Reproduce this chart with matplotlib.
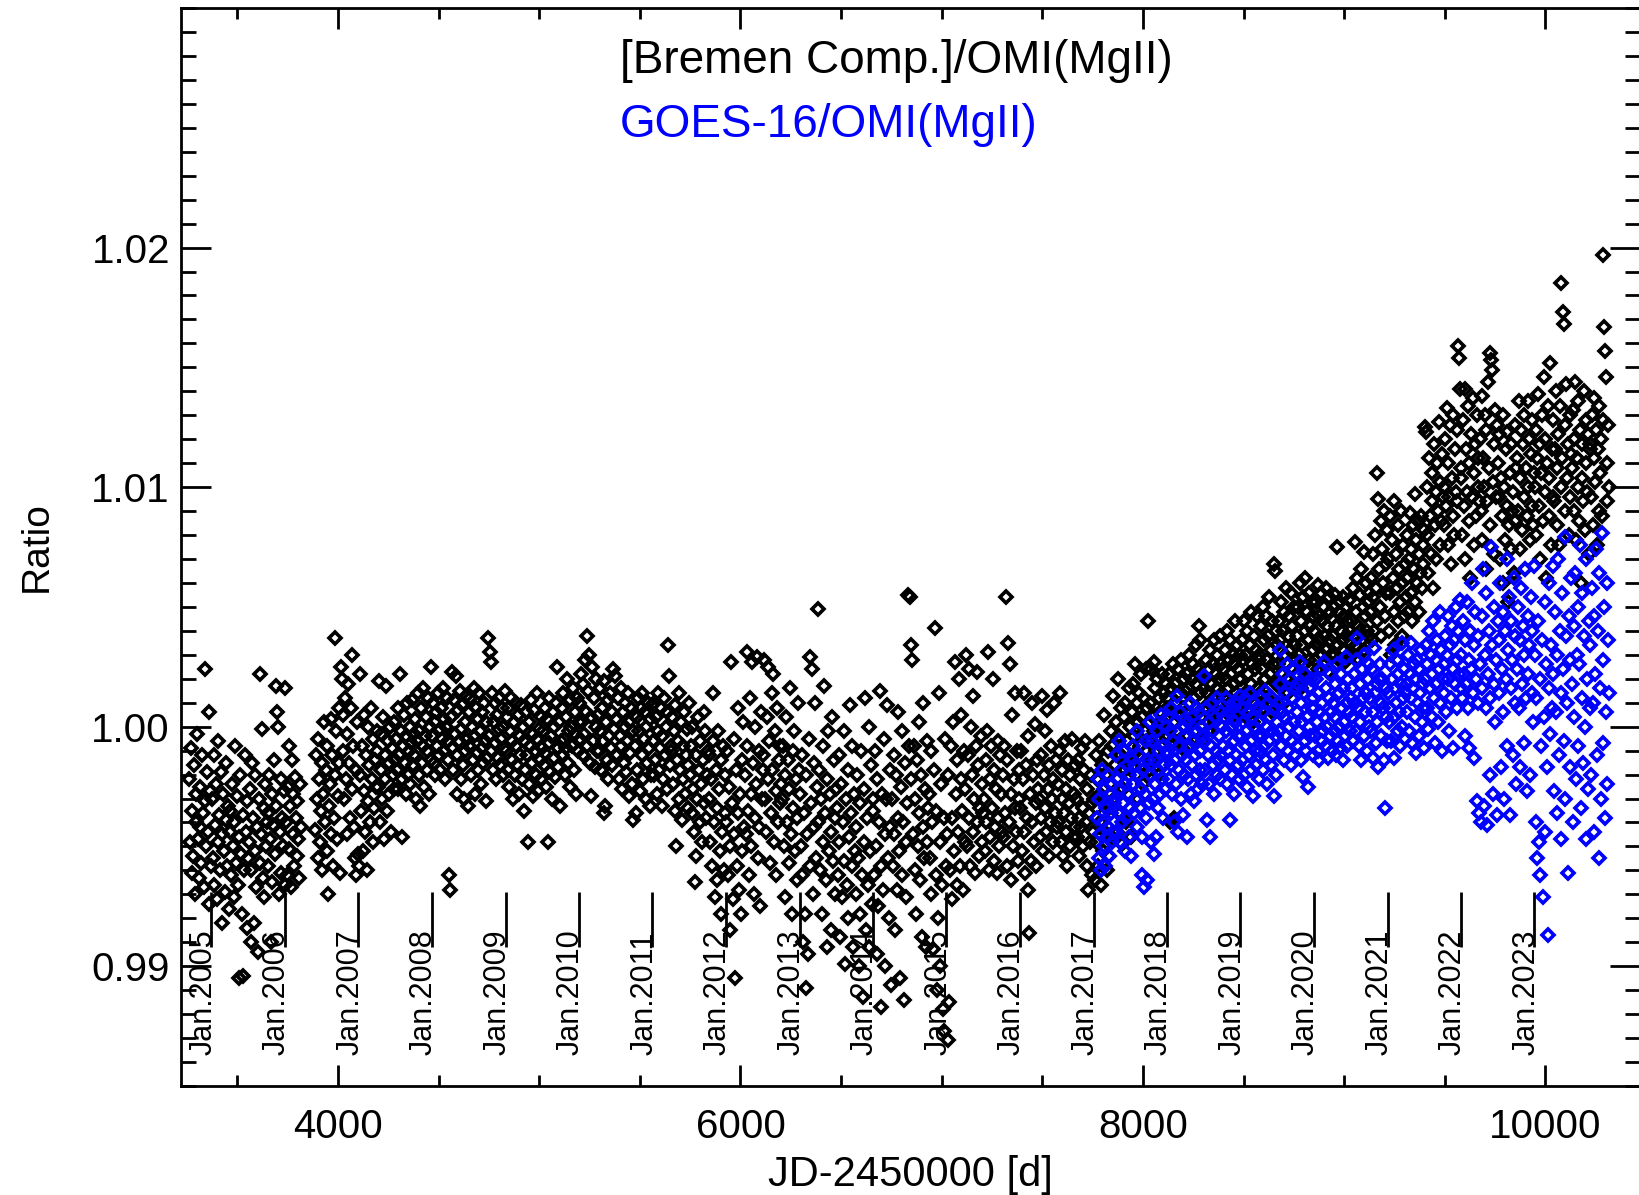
import numpy as np
import matplotlib
matplotlib.use("Agg")
import matplotlib.pyplot as plt
from matplotlib.ticker import MultipleLocator, FixedLocator, FormatStrFormatter

N = float('nan')

# ---------------- data ----------------
# Jan 1st of each year in JD-2450000
jan1_days = [3371.5, 3736.5, 4101.5, 4466.5, 4832.5, 5197.5, 5562.5, 5927.5, 6293.5,
             6658.5, 7023.5, 7388.5, 7754.5, 8119.5, 8484.5, 8849.5, 9215.5, 9580.5, 9945.5]
jan1_labels = ['Jan.2005', 'Jan.2006', 'Jan.2007', 'Jan.2008', 'Jan.2009', 'Jan.2010',
               'Jan.2011', 'Jan.2012', 'Jan.2013', 'Jan.2014', 'Jan.2015', 'Jan.2016',
               'Jan.2017', 'Jan.2018', 'Jan.2019', 'Jan.2020', 'Jan.2021', 'Jan.2022',
               'Jan.2023']

black_first_day = 3258.0
black_last_day = 10318.0
blue_first_day = 7770.0
blue_last_day = 10318.0

# ratio values, in units of 1e-4 relative to 1.0 (4-day cadence)
black_2004 = [-22,-48,-9,-61,-35,-54,-16,-70,-40,-28,-3,-47,-63,-25,-42,-57,-12,-36,-67,-31,24,-50,-19,-44,-74,6,-27,-58]
black_2005 = [-30,-55,-12,-66,-41,-24,-72,-48,-6,-37,-60,-19,-82,-45,-28,-52,-69,-15,-39,-58,-33,-76,-44,
              -35,-62,-24,-50,-71,-40,-8,-57,-29,-66,-46,-105,-20,-53,-78,-37,-104,-60,-12,-44,-84,-31,-55,
              -48,-26,-90,-60,-15,-38,-82,-52,-20,-67,-42,-94,-30,-57,22,-45,-1,-63,-34,-71,-24,-50,-40,
              -36,-58,-20,-47,-90,-28,-65,-41,-14,-53,-33,17,6,0,-70,-44,-22,-61,-38,-50,-27,-66]
black_2006 = [16,-40,-62,-25,-8,-51,-33,-67,-14,-45,-28,-58,-21,-38,-54,-31,-47,-63,-24,-42,
              N,N,N,N,N,N,N,N,N,N,N,N,N,N,N,N,N,
              -43,-12,-30,-55,-5,-22,-48,-35,-15,-60,-28,2,-40,-18,-52,-8,-70,-33,-24,-45,3,-12,-58,-38,37,-20,-2,-47,-29,8,-15,-61,25,
              20,-10,5,-30,12,-22,-45,-3,18,-15,-38,8,-26,30,-8,-42,-55,-18,-62,2,-53]
black_2007 = [-58,-20,22,-35,-8,-52,5,-27,-44,-12,-60,0,-31,-16,-40,8,-22,-48,-5,-34,-14,-25,-2,
              -10,-25,19,-40,-3,-18,-30,4,-47,-12,-22,17,-35,-6,-15,-28,0,-44,-9,-20,2,-26,-14,
              -5,-18,8,-26,-12,22,-2,-22,-46,-8,5,-15,-28,-4,10,-20,-10,0,-24,-7,11,-16,-3,
              -12,3,-30,-6,14,-20,-2,-33,8,-15,-8,16,-25,-4,4,-18,-10,12,-28,0,-14,25]
black_2008 = [-4,10,-15,2,-20,6,-8,14,-12,-1,-18,8,-5,16,-10,3,-22,0,12,-14,-6,-62,-68,
              4,23,-9,-18,11,-3,21,-28,-12,7,-6,15,-22,-1,9,-16,-30,2,-10,13,-5,-33,6,
              -8,12,-20,0,-14,16,-4,-28,8,-11,3,-18,14,-2,-24,6,-9,-15,10,-6,-31,2,-13,
              37,-4,31,27,-10,14,-18,2,-7,10,-22,5,-13,-1,12,-16,-5,8,-20,0,-9,15]
black_2009 = [-10,4,-18,8,-25,-2,12,-14,-6,-30,2,-20,10,-8,-16,5,-28,-4,-12,9,-22,0,-35,
              -6,-18,6,-12,-48,2,-24,-8,11,-15,-3,-29,7,-10,-20,14,-5,-27,-1,-14,4,-22,-9,
              -2,-16,8,-11,-25,3,-48,-7,12,-19,-4,-30,6,-13,0,-21,10,25,-9,-17,2,-33,-6,
              8,-12,14,-5,-20,4,-9,20,-15,-2,11,-25,0,-8,16,-18,6,-3,-28,12,-10,2]
black_2010 = [10,-5,22,2,-12,18,-3,28,6,38,-8,15,30,-15,-29,4,25,-6,12,-17,0,20,-10,
              5,-10,16,-2,-18,8,-6,19,-36,-33,2,-14,11,-22,-4,14,-9,6,-16,24,-1,21,-12,
              3,-12,12,-22,-4,16,-8,-26,6,-15,0,10,-19,-6,14,-29,2,-11,8,-24,-2,-39,5,
              -8,-36,4,-18,12,-2,-27,8,-12,14,-22,-5,6,-30,0,-15,10,-9,-33,3,-20,9]
black_2011 = [-6,-20,10,-14,4,-28,-2,14,-18,-9,8,-33,-4,-22,12,-12,0,-26,6,34,21,-16,-8,
              -10,4,-24,-2,-35,9,-50,-14,-6,14,-30,-18,2,-39,-8,-22,6,-28,-12,-1,-34,-16,10,
              -20,-8,-36,0,-26,-44,-65,-12,-54,-30,4,-18,-40,-6,-24,-48,-14,6,-32,-2,-38,-20,-10,
              -30,-12,-48,-22,-58,-6,14,-40,-71,-18,-34,-64,-2,-26,-52,-78,-14,-44,-8,-60,-36,-20]
black_2012 = [-40,-10,-62,-25,-85,-50,27,-32,-72,-5,-45,-105,-18,-58,-36,8,-68,-28,-78,-14,-52,2,-42,
              -20,-45,31,-8,-35,-62,12,-28,-50,27,-15,-70,0,-38,-24,29,-55,-10,-42,-75,6,-30,-18,
              -12,28,-30,-44,4,-22,25,-6,-57,-36,14,-18,22,-48,-2,-27,-62,8,-40,-14,-32,-8,-24,
              -30,-8,-50,-20,-71,4,-40,-14,-57,-26,16,-45,-78,-10,-34,-2,-52,-22,-64,-38,10,-18]
black_2013 = [-28,-50,-12,-62,-90,-36,-78,-20,-109,-45,-95,-5,29,-58,-32,24,-70,-15,-42,10,-55,-25,49,
              -40,-18,-60,-30,-78,-8,-48,17,-36,-64,-22,-92,-2,-52,-28,-85,-44,4,-56,-14,-38,-70,-26,
              -34,-62,-12,-48,-88,-24,-71,-40,-2,-56,-99,-30,-66,-18,-80,-46,9,-36,-58,-8,-92,-28,-52,
              -42,-70,-20,-55,-100,-32,-78,-10,-62,-113,-26,-48,12,-85,-38,-66,0,-92,-52,-16,-74,-30]
black_2014 = [-35,-62,-10,-50,-95,-22,-75,-40,15,-58,-117,-28,-68,-5,-45,-100,-30,9,-55,-80,-18,-42,-108,
              -30,-58,-12,-45,-85,-20,-68,-38,6,-52,-105,-25,-62,-2,-40,-114,-15,-48,-71,-32,55,-8,54,
              34,-22,28,-45,-8,-60,-30,-78,-14,-50,2,-36,-64,-20,-88,-42,10,-55,-26,-92,-6,-48,-34,
              -28,-55,-10,-70,-40,-93,-18,41,-62,-35,-110,-80,14,-48,-100,-24,-66,-118,-38,-127,-5,-58]
black_2015 = [-45,-131,-20,-115,-60,-8,-38,-72,2,-52,27,-28,-66,-14,-44,20,-58,-22,5,-35,-68,-10,-48,
              -26,30,-50,-12,24,-38,-58,0,-20,-44,13,-30,-61,-8,-40,23,-16,-54,-34,-4,-48,-24,-36,
              -30,-52,-14,-40,-2,31,-60,-22,-46,-8,-34,20,-56,-18,-42,-26,-61,-6,-38,-50,-12,-28,-44,
              -20,-46,-8,-36,54,-58,-14,35,-40,26,-28,-64,5,-50,-22,-34,14,-44,-10,-56,-30,-18]
black_2016 = [-34,-10,-52,-22,14,-44,-61,-16,-38,-4,-68,-86,-28,-56,10,-40,-20,-48,1,-32,-58,-14,-26,
              -30,-46,-12,-38,13,-52,-20,-34,-2,-44,7,-26,-54,-16,-40,-8,-30,-48,-22,10,-36,-14,-42,
              -24,-40,-10,14,-48,-30,-18,-54,-36,-6,-44,-26,-58,-14,-32,-50,-20,-38,-5,-46,-28,-42,-16,
              -30,-46,-14,-38,-54,-22,-42,-9,-34,-50,-18,-6,-40,-58,-26,-68,-36,-48,-20,-62,-32,-44]
black_2017 = [-30,-64,-12,-48,-22,-58,-6,-40,-28,-66,-16,-52,5,-36,-44,-20,-60,-10,-32,-54,-24,-2,-46,
              -8,13,-30,-16,2,-44,-22,20,-4,-36,8,-12,-49,-26,4,-18,10,-40,-6,-28,16,-14,0,
              -46,6,-12,18,-4,26,-20,10,-30,2,14,-8,22,-16,4,-24,12,-2,24,-10,8,44,-18,
              10,-6,24,-14,4,27,-2,16,-10,20,0,-20,12,6,-8,22,2,-16,14,-4,18,8]
black_2018 = [12,-4,22,-40,6,16,-8,26,-38,2,18,10,-2,24,-6,14,4,28,-9,8,20,0,15,
              6,22,-4,16,30,10,-8,20,2,26,12,-2,18,34,8,24,42,36,14,4,22,-6,16,
              20,8,28,14,-2,24,10,32,18,4,26,12,36,2,22,16,30,6,20,38,10,26,14,
              24,12,32,6,20,40,16,28,10,36,22,4,30,18,26,44,14,34,8,24,20,30]
black_2019 = [20,36,8,28,44,14,30,4,40,22,12,34,48,18,26,2,38,24,10,32,46,16,28,
              30,14,42,24,50,8,36,20,46,28,12,38,54,22,32,6,44,26,68,65,40,18,34,
              26,44,16,36,52,22,40,10,48,30,58,20,38,14,46,32,56,24,42,18,50,34,28,
              38,22,50,30,60,16,44,34,54,26,40,62,20,48,36,28,56,42,24,52,32,46]
black_2020 = [40,28,52,34,59,24,46,36,56,30,44,26,50,38,58,32,42,23,54,36,48,30,45,
              38,50,30,55,42,75,34,48,28,52,40,36,54,32,46,27,50,38,44,30,53,40,35,
              44,30,58,38,77,48,34,62,42,28,55,40,66,36,50,73,32,46,60,40,52,38,56,
              48,62,36,72,54,40,80,58,44,106,95,66,50,86,38,74,60,90,46,68,56,82]
black_2021 = [70,40,88,56,30,78,62,94,48,34,72,58,84,44,66,52,90,38,60,76,46,68,54,
              62,80,48,70,89,56,74,44,84,66,97,52,78,60,86,48,72,64,88,58,76,68,82,
              125,123,80,100,64,112,88,72,106,94,58,118,84,98,70,110,90,127,76,102,86,114,96,
              100,84,120,92,133,76,110,96,126,68,104,88,130,80,116,98,124,94,159,154,141,108]
black_2022 = [104,80,128,92,141,70,116,98,134,86,110,62,122,96,137,76,106,118,88,130,100,112,94,
              120,90,138,78,112,100,130,66,124,94,144,108,84,156,153,149,102,118,72,132,96,126,110,
              96,122,70,104,88,130,60,100,78,116,92,123,52,84,106,74,118,90,98,64,126,86,108,
              112,90,136,74,104,124,82,118,96,130,66,108,88,136,100,120,78,114,92,128,84,106]
black_2023 = [100,124,80,112,139,92,118,70,106,130,86,146,98,120,62,110,134,88,104,152,76,116,96,
              128,94,116,140,84,108,122,76,134,100,185,112,173,168,90,126,143,104,118,80,130,96,114,
              108,132,90,120,144,78,112,100,136,86,124,60,104,118,94,140,82,128,110,98,122,72,116,
              118,96,130,84,112,137,102,124,76,116,90,134,106,120,88,128,197,167,157,146,110,94,126,100]

blue_2017 = [-38,-22,-55,-30,-45,-60,-18,-40,-50,-26,-58,-34,-46,-20,-42,-54,-28,-36,-48,-24,-44,-32,
             -30,-12,-44,-22,-36,-6,-48,-26,-18,-40,-32,-10,-52,-24,-38,-16,-28,-46,-20,-34,-54,-14,
             -24,-8,-36,-16,-30,-2,-42,-20,-12,-34,-26,-46,-62,-18,-67,-28,-6,-38,-64,-14,-32,2,
             -20,-48,-6,-30,-53,-14,-24,-46,-2,-34,-18,-10,-28,5,-22,-38,-8,-16,-26,0,-12]
blue_2018 = [-10,4,-22,-2,-16,8,-28,-6,-40,-14,2,-24,13,-44,-8,-18,6,-30,-12,-37,0,-20,-4,
             -14,-46,2,-22,-8,10,-28,-16,4,-6,-31,-12,8,-20,-2,-26,6,-10,-18,0,-24,-4,21,
             -6,-18,8,-39,-12,2,-24,-46,-8,10,-16,-2,-28,4,-10,-20,12,-14,-4,-22,6,-12,0,
             -8,4,-18,-2,12,-24,-10,6,-14,-39,0,-20,8,-6,-28,2,-12,10,-16,-4,-22,13]
blue_2019 = [-4,8,-14,2,-20,12,-8,-2,-25,6,-12,14,-6,-18,4,-29,10,-10,0,-16,8,-4,-22,
             2,-10,12,-4,-18,6,-8,15,-14,0,-24,10,-6,4,-16,-2,12,-12,-29,8,-4,-20,2,
             10,-2,18,32,-8,6,22,-14,4,14,-4,26,-10,8,0,20,-16,12,-6,24,2,-12,16,
             6,-8,18,-2,27,-14,10,2,-21,14,-6,22,-10,4,-25,16,0,-4,20,8,-12,12]
blue_2020 = [8,-4,20,2,-10,14,-14,6,24,-6,10,-2,27,4,-8,16,0,-13,12,-4,22,6,-10,
             10,-2,18,4,-12,26,-6,14,0,-9,22,8,-14,16,2,-4,29,10,-8,20,6,-2,12,
             4,16,-6,22,10,-2,28,37,8,-8,18,2,-14,24,12,-4,30,6,14,-10,20,0,26,
             12,-2,24,6,-13,33,14,-7,18,2,-17,20,26,10,-4,20,8,-14,-34,4,16,-6]
blue_2021 = [14,2,26,8,-6,20,32,4,-13,16,10,28,-2,22,6,-8,18,35,0,12,24,-5,14,
             18,6,30,-2,22,12,35,-7,16,26,4,20,-11,28,10,-4,24,14,32,2,18,8,-9,
             20,34,8,26,-1,40,16,30,4,22,44,12,-7,28,18,36,2,24,48,10,32,-10,20,
             26,14,38,6,30,46,20,-2,34,12,42,24,-9,36,18,50,28,8,40,22,53,16]
blue_2022 = [30,12,44,22,-4,36,18,52,8,28,-9,40,24,60,14,-13,34,48,20,-31,10,38,-36,
             26,-40,46,16,66,-33,30,8,56,-41,22,40,-20,12,75,34,-28,18,50,2,28,-37,44,
             36,14,60,-17,24,48,6,-30,40,20,70,-8,32,54,-37,16,44,28,-12,62,10,38,-24,
             24,50,8,36,-17,58,18,42,-7,30,66,12,-27,46,22,34,-20,54,14,40,2,67]
blue_2023 = [30,-40,12,-55,44,-48,20,-62,-8,36,-71,4,52,-44,26,-17,-87,16,60,-3,34,8,67,
             22,-27,48,6,-36,30,70,-12,40,14,-47,56,24,-6,79,-30,38,10,-61,46,-17,28,62,
             18,-40,42,4,64,-22,30,50,-8,26,76,-34,12,56,-15,38,0,-47,70,20,-26,44,8,
             34,-20,58,10,-44,46,22,74,-12,40,-55,64,16,-30,81,28,-7,50,-38,6,60,-24,36,14]

black_years = [black_2004, black_2005, black_2006, black_2007, black_2008, black_2009,
               black_2010, black_2011, black_2012, black_2013, black_2014, black_2015,
               black_2016, black_2017, black_2018, black_2019, black_2020, black_2021,
               black_2022, black_2023]
blue_years = [blue_2017, blue_2018, blue_2019, blue_2020, blue_2021, blue_2022, blue_2023]


def build(years, edges):
    xs, ys = [], []
    for vals, a, b in zip(years, edges[:-1], edges[1:]):
        n = len(vals)
        for i, v in enumerate(vals):
            xs.append(a + (b - a) * (i + 0.5) / n)
            ys.append(1.0 + v * 1e-4)
    return np.array(xs), np.array(ys, dtype=float)


black_edges = [black_first_day] + jan1_days + [black_last_day]
blue_edges = [blue_first_day] + jan1_days[13:] + [blue_last_day]
bx, by = build(black_years, black_edges)
gx, gy = build(blue_years, blue_edges)

# ---------------- figure ----------------
plt.rcParams['font.family'] = ['Liberation Sans', 'DejaVu Sans']
W, H = 1640, 1195
fig = plt.figure(figsize=(W / 100, H / 100), dpi=100)
L, R, T, B = 181, 1640, 8, 1086
ax = fig.add_axes([L / W, 1 - B / H, (R - L) / W, (B - T) / H])

ax.plot(bx, by, ls='none', marker='D', ms=6.4, mfc='none', mec='black', mew=2.6, zorder=2)
ax.plot(gx, gy, ls='none', marker='D', ms=6.4, mfc='none', mec='#0000ff', mew=2.6, zorder=2.5)

for d, lab in zip(jan1_days, jan1_labels):
    ax.plot([d, d], [0.9908, 0.9931], color='black', lw=2.0, zorder=3, solid_capstyle='butt')
    ax.text(d, 0.9863, lab, rotation=90, rotation_mode='anchor', ha='left', va='baseline',
            fontsize=22, color='black', zorder=4)

ax.set_xlim(3220, 10470)
ax.set_ylim(0.985, 1.030)
ax.xaxis.set_major_locator(FixedLocator([4000, 6000, 8000, 10000]))
ax.xaxis.set_minor_locator(MultipleLocator(500))
ax.yaxis.set_major_locator(FixedLocator([0.99, 1.00, 1.01, 1.02]))
ax.yaxis.set_minor_locator(MultipleLocator(0.001))
ax.yaxis.set_major_formatter(FormatStrFormatter('%.2f'))

for s in ax.spines.values():
    s.set_linewidth(2.0)
ax.spines['right'].set_visible(False)

ax.tick_params(axis='x', which='major', direction='in', length=15, width=2.0,
               top=True, bottom=True, labelsize=29, pad=16)
ax.tick_params(axis='x', which='minor', direction='in', length=8, width=2.0, top=True, bottom=True)
ax.tick_params(axis='y', which='major', direction='in', length=21.6, width=2.0,
               left=True, right=True, labelsize=29, pad=8)
ax.tick_params(axis='y', which='minor', direction='in', length=10.8, width=2.0, left=True, right=True)

fig.text(910 / W, 1 - 1175 / H, 'JD-2450000 [d]', ha='center', va='center', fontsize=30)
fig.text(37 / W, 1 - 547 / H, 'Ratio', rotation=90, ha='center', va='center', fontsize=28)
fig.text(620 / W, 1 - 61 / H, '[Bremen Comp.]/OMI(MgII)', ha='left', va='center',
         fontsize=33, color='black')
fig.text(620 / W, 1 - 125 / H, 'GOES-16/OMI(MgII)', ha='left', va='center',
         fontsize=33, color='#0000ff')

fig.savefig('out.png', dpi=100)
